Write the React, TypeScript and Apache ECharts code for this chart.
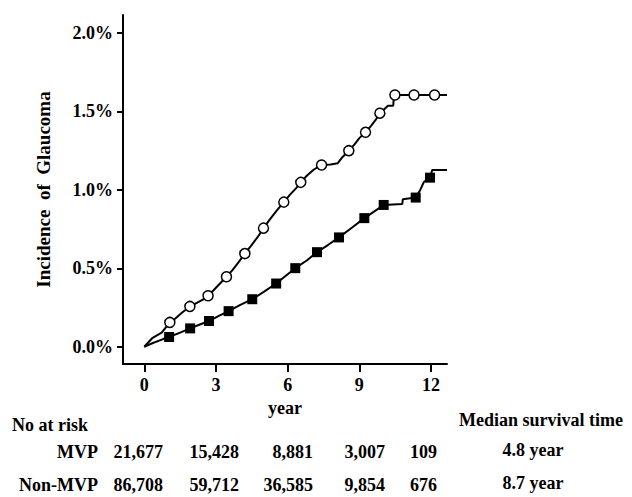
import React, { useEffect, useRef } from "react";
import * as echarts from "echarts";

// Curve points: [year, incidence %]
const mvpLine: [number, number][] = [
  [0, 0], [0.35, 0.057], [0.73, 0.09], [1.07, 0.155], [1.3, 0.18], [1.6, 0.22], [1.91, 0.257],
  [2.2, 0.28], [2.45, 0.3], [2.67, 0.325], [2.9, 0.36], [3.15, 0.4], [3.44, 0.446],
  [3.7, 0.49], [3.95, 0.54], [4.21, 0.594], [4.45, 0.64], [4.75, 0.7], [4.99, 0.756],
  [5.25, 0.81], [5.55, 0.87], [5.84, 0.922], [6.1, 0.97], [6.35, 1.01], [6.55, 1.048],
  [6.8, 1.09], [7.1, 1.13], [7.42, 1.159], [7.8, 1.162], [8.1, 1.17], [8.3, 1.21],
  [8.56, 1.25], [8.8, 1.29], [9.0, 1.33], [9.26, 1.367], [9.5, 1.41], [9.7, 1.45],
  [9.86, 1.489], [10.2, 1.537], [10.42, 1.537], [10.45, 1.605], [12.67, 1.605],
];
const mvpMarkers: [number, number][] = [
  [1.07, 0.155], [1.91, 0.257], [2.67, 0.325], [3.44, 0.446], [4.21, 0.594], [4.99, 0.756],
  [5.84, 0.922], [6.55, 1.048], [7.42, 1.159], [8.56, 1.25], [9.26, 1.367], [9.86, 1.489],
  [10.49, 1.605], [11.29, 1.605], [12.15, 1.605],
];
const nonMvpLine: [number, number][] = [
  [0, 0], [0.36, 0.024], [0.79, 0.049], [1.04, 0.062], [1.5, 0.09], [1.92, 0.117],
  [2.3, 0.14], [2.71, 0.164], [3.1, 0.195], [3.53, 0.227], [4.0, 0.265], [4.52, 0.303],
  [5.0, 0.35], [5.52, 0.403], [5.9, 0.45], [6.32, 0.501], [6.8, 0.55], [7.23, 0.603],
  [7.7, 0.65], [8.15, 0.697], [8.7, 0.76], [9.21, 0.82], [9.6, 0.86], [10.02, 0.904],
  [10.8, 0.91], [10.82, 0.94], [11.36, 0.951], [11.55, 1.0], [11.7, 1.05], [11.96, 1.078],
  [12.05, 1.127], [12.67, 1.127],
];
const nonMvpMarkers: [number, number][] = [
  [1.04, 0.062], [1.92, 0.117], [2.71, 0.164], [3.53, 0.227], [4.52, 0.303], [5.52, 0.403],
  [6.32, 0.501], [7.23, 0.603], [8.15, 0.697], [9.21, 0.82], [10.02, 0.904], [11.36, 0.951],
  [11.96, 1.078],
];

const xTicks = [0, 3, 6, 9, 12];
const yTicks = [0, 0.5, 1.0, 1.5, 2.0];

const groupNames = ["MVP", "Non-MVP"];
const atRiskMVP = ["21,677", "15,428", "8,881", "3,007", "109"];
const atRiskNonMVP = ["86,708", "59,712", "36,585", "9,854", "676"];
const medianSurvival = ["4.8 year", "8.7 year"];

const FONT = "'Liberation Serif', 'Times New Roman', serif";

export default function App() {
  const ref = useRef<HTMLDivElement>(null);
  useEffect(() => {
    if (!ref.current) return;
    const chart = echarts.init(ref.current, undefined, { renderer: "svg" });
    const txt = { fontFamily: FONT, fontWeight: "bold" as const, fill: "#000", lineHeight: 18 };
    const colRight = [163, 239, 313, 385, 437];
    const rowY = [452, 485];
    const rows = [atRiskMVP, atRiskNonMVP];
    const graphics: any[] = [
      { type: "text", x: 12, y: 425, style: { ...txt, text: "No at risk", fontSize: 18, align: "left", verticalAlign: "middle" } },
      { type: "text", x: 541, y: 420, style: { ...txt, text: "Median survival time", fontSize: 18, align: "center", verticalAlign: "middle" } },
    ];
    rows.forEach((r, ri) => {
      graphics.push({ type: "text", x: 98, y: rowY[ri], style: { ...txt, text: groupNames[ri], fontSize: 18, align: "right", verticalAlign: "middle" } });
      r.forEach((v, ci) => {
        graphics.push({ type: "text", x: colRight[ci], y: rowY[ri], style: { ...txt, text: v, fontSize: 18, align: "right", verticalAlign: "middle" } });
      });
      graphics.push({ type: "text", x: 533, y: rowY[ri] - 2, style: { ...txt, text: medianSurvival[ri], fontSize: 18, align: "center", verticalAlign: "middle" } });
    });

    chart.setOption({
      animation: false,
      backgroundColor: "#fff",
      grid: { left: 123, right: 185, top: 15, bottom: 133 },
      xAxis: {
        type: "value",
        min: -0.89,
        max: 12.67,
        name: "year",
        nameLocation: "middle",
        nameGap: 32,
        nameTextStyle: { fontFamily: FONT, fontWeight: "bold", fontSize: 18, color: "#000" },
        axisLine: { show: true, onZero: false, lineStyle: { color: "#000", width: 2 } },
        axisTick: { show: true, length: 8, lineStyle: { color: "#000", width: 2 }, customValues: xTicks },
        axisLabel: { customValues: xTicks, margin: 12, fontFamily: FONT, fontWeight: "bold", fontSize: 18, color: "#000" },
        splitLine: { show: false },
      },
      yAxis: {
        type: "value",
        min: -0.11,
        max: 2.115,
        name: "Incidence  of  Glaucoma",
        nameLocation: "middle",
        nameGap: 70,
        nameTextStyle: { fontFamily: FONT, fontWeight: "bold", fontSize: 19, color: "#000" },
        axisLine: { show: true, onZero: false, lineStyle: { color: "#000", width: 2 } },
        axisTick: { show: true, length: 6, lineStyle: { color: "#000", width: 2 }, customValues: yTicks },
        axisLabel: {
          customValues: yTicks,
          margin: 10,
          fontFamily: FONT,
          fontWeight: "bold",
          fontSize: 18,
          color: "#000",
          formatter: (v: number) => v.toFixed(1) + "%",
        },
        splitLine: { show: false },
      },
      series: [
        { type: "line", data: mvpLine, showSymbol: false, lineStyle: { color: "#000", width: 2 }, z: 2 },
        { type: "line", data: nonMvpLine, showSymbol: false, lineStyle: { color: "#000", width: 2 }, z: 2 },
        { type: "scatter", data: mvpMarkers, symbol: "circle", symbolSize: 10, itemStyle: { color: "#fff", borderColor: "#000", borderWidth: 1.5, opacity: 1 }, z: 3 },
        { type: "scatter", data: nonMvpMarkers, symbol: "rect", symbolSize: 10, itemStyle: { color: "#000", opacity: 1 }, z: 3 },
      ],
      graphic: graphics,
    });
    return () => chart.dispose();
  }, []);
  return <div ref={ref} style={{ position: "fixed", left: 0, top: 0, width: 632, height: 497 }} />;
}
